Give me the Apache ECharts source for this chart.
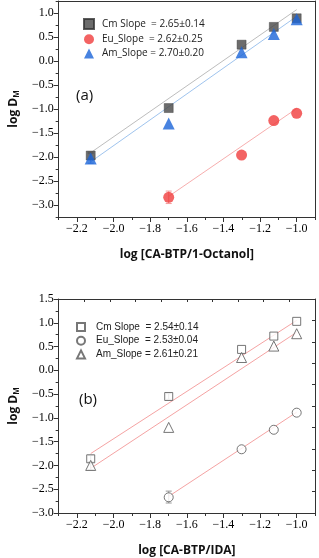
<!DOCTYPE html>
<html><head><meta charset="utf-8">
<script src="https://cdn.jsdelivr.net/npm/echarts@6/dist/echarts.min.js"></script>
<style>html,body{margin:0;padding:0;background:#fff}#c{width:319px;height:558px}</style>
</head><body><div id="c"></div>
<script>
// ---- data ----
const xTicks = [-2.2, -2.0, -1.8, -1.6, -1.4, -1.2, -1.0];
const yTicksA = [-3.0, -2.5, -2.0, -1.5, -1.0, -0.5, 0.0, 0.5, 1.0];
const xAll = [-2.125, -1.699, -1.301, -1.125, -1.0];
const xEu = [-1.699, -1.301, -1.125, -1.0];

// panel (a): CA-BTP / 1-Octanol
const namesA = ['Cm Slope  = 2.65±0.14', 'Eu_Slope  = 2.62±0.25', 'Am_Slope = 2.70±0.20'];
const cmA = [-1.97, -0.98, 0.34, 0.71, 0.89];
const euA = [-2.84, -1.96, -1.24, -1.09];
const amA = [-2.03, -1.30, 0.18, 0.56, 0.87];
const fitCmA = [[-2.125, -1.91], [-1.0, 1.07]];
const fitEuA = [[-1.699, -2.82], [-1.0, -0.99]];
const fitAmA = [[-2.125, -2.10], [-1.0, 0.93]];
const errEuA = [[-1.699, -2.97, -2.71]];
const errAmA = [[-2.125, -2.13, -1.93]];
const errCmA = [[-2.125, -2.04, -1.90]];

// panel (b): CA-BTP / IDA
const namesB = ['Cm Slope  = 2.54±0.14', 'Eu_Slope  = 2.53±0.04', 'Am_Slope = 2.61±0.21'];
const cmB = [-1.86, -0.55, 0.44, 0.72, 1.03];
const euB = [-2.67, -1.66, -1.25, -0.89];
const amB = [-2.00, -1.20, 0.27, 0.51, 0.77];
const fitCmB = [[-2.125, -1.75], [-1.0, 1.05]];
const fitEuB = [[-1.699, -2.65], [-1.0, -0.88]];
const fitAmB = [[-2.125, -2.06], [-1.0, 0.80]];
const errEuB = [[-1.699, -2.79, -2.54]];
const errAmB = [[-2.125, -2.09, -1.92]];
const errCmB = [[-2.125, -1.93, -1.79], [-1.699, -0.61, -0.49]];

const zip = (xs, ys) => xs.map((x, i) => [x, ys[i]]);
const fmt = v => (v < -1e-9 ? '\u2212' : '') + Math.abs(v).toFixed(1);
const AX = '#333';
const serif = 'Liberation Serif';

function minorX(g, name) {
  return [
    { gridIndex: g, type: 'value', min: -2.3, max: -0.9, interval: 0.1, position: 'bottom',
      axisLine: { show: true, onZero: false, lineStyle: { color: AX } },
      axisTick: { show: true, inside: false, length: 3, lineStyle: { color: AX } },
      axisLabel: { show: false }, splitLine: { show: false } },
    { gridIndex: g, type: 'value', min: -2.3, max: -0.9, position: 'bottom',
      axisLine: { show: false, onZero: false },
      axisTick: { show: true, inside: false, length: 5, customValues: xTicks, lineStyle: { color: AX } },
      axisLabel: { show: true, hideOverlap: false, customValues: xTicks, formatter: fmt, fontFamily: serif, fontSize: 12, color: '#000', margin: 6 },
      splitLine: { show: false },
      name: name, nameLocation: 'middle', nameGap: 32,
      nameTextStyle: { fontFamily: 'Open Sans', fontWeight: 'bold', fontSize: 12, color: '#111' } }
  ];
}
const yName = {
  name: '{a|log D}{s|M}', nameLocation: 'middle', nameGap: 34, nameRotate: 90,
  nameTextStyle: { rich: {
    a: { fontFamily: 'Open Sans', fontWeight: 'bold', fontSize: 12, color: '#111' },
    s: { fontFamily: 'Open Sans', fontWeight: 'bold', fontSize: 8, color: '#111', padding: [6, 0, 0, 0] } } }
};

const xAxes = [
  ...minorX(0, 'log [CA-BTP/1-Octanol]'),
  { gridIndex: 0, type: 'value', min: -2.3, max: -0.9, position: 'top',
    axisLine: { show: true, onZero: false, lineStyle: { color: AX } }, axisTick: { show: false },
    axisLabel: { show: false }, splitLine: { show: false } },
  ...minorX(1, 'log [CA-BTP/IDA]'),
  { gridIndex: 1, type: 'value', min: 0, max: 10, interval: 1, position: 'top',
    axisLine: { show: true, onZero: false, lineStyle: { color: AX } },
    axisTick: { show: true, inside: true, length: 3, lineStyle: { color: AX } },
    axisLabel: { show: false }, splitLine: { show: false } }
];
const yAxes = [
  { gridIndex: 0, type: 'value', min: -3.25, max: 1.25, interval: 0.25, position: 'left',
    axisLine: { show: true, onZero: false, lineStyle: { color: AX } },
    axisTick: { show: true, length: 3, lineStyle: { color: AX } },
    axisLabel: { show: false }, splitLine: { show: false } },
  Object.assign({ gridIndex: 0, type: 'value', min: -3.25, max: 1.25, position: 'left',
    axisLine: { show: false, onZero: false },
    axisTick: { show: true, length: 5, customValues: yTicksA, lineStyle: { color: AX } },
    axisLabel: { show: true, hideOverlap: false, customValues: yTicksA, formatter: fmt, fontFamily: serif, fontSize: 12, color: '#000', margin: 5 },
    splitLine: { show: false } }, yName),
  { gridIndex: 0, type: 'value', min: -3.25, max: 1.25, position: 'right',
    axisLine: { show: true, onZero: false, lineStyle: { color: AX } }, axisTick: { show: false },
    axisLabel: { show: false }, splitLine: { show: false } },
  Object.assign({ gridIndex: 1, type: 'value', min: -3.0, max: 1.5, interval: 0.5, position: 'left',
    axisLine: { show: true, onZero: false, lineStyle: { color: AX } },
    axisTick: { show: true, length: 5, lineStyle: { color: AX } },
    minorTick: { show: true, splitNumber: 2, length: 3, lineStyle: { color: AX } },
    axisLabel: { show: true, formatter: fmt, fontFamily: serif, fontSize: 12, color: '#000', margin: 5 },
    splitLine: { show: false } }, yName),
  { gridIndex: 1, type: 'value', min: 0, max: 10, interval: 1, position: 'right',
    axisLine: { show: true, onZero: false, lineStyle: { color: AX } },
    axisTick: { show: true, inside: true, length: 3, lineStyle: { color: AX } },
    axisLabel: { show: false }, splitLine: { show: false } }
];

function fit(data, color, xi, yi) {
  return { type: 'line', data: data, xAxisIndex: xi, yAxisIndex: yi, symbol: 'none', silent: true, z: 1,
    lineStyle: { color: color, width: 1 } };
}
function err(data, color, xi, yi) {
  return { type: 'custom', data: data, xAxisIndex: xi, yAxisIndex: yi, z: 1, silent: true,
    renderItem: (params, api) => {
      const lo = api.coord([api.value(0), api.value(1)]);
      const hi = api.coord([api.value(0), api.value(2)]);
      const w = 3;
      return { type: 'group', children: [
        { type: 'line', shape: { x1: lo[0], y1: lo[1], x2: hi[0], y2: hi[1] }, style: { stroke: color, lineWidth: 1 } },
        { type: 'line', shape: { x1: lo[0] - w, y1: lo[1], x2: lo[0] + w, y2: lo[1] }, style: { stroke: color, lineWidth: 1 } },
        { type: 'line', shape: { x1: hi[0] - w, y1: hi[1], x2: hi[0] + w, y2: hi[1] }, style: { stroke: color, lineWidth: 1 } }
      ] };
    } };
}
function sc(name, data, symbol, size, style, xi, yi) {
  return { type: 'scatter', name: name, data: data, xAxisIndex: xi, yAxisIndex: yi, symbol: symbol,
    symbolSize: size, itemStyle: style, z: 3 };
}
const CM = '#474747', EU = '#f03c3c', AM = '#1a64d8';
const open = { color: '#fff', borderColor: '#555', borderWidth: 1 };

const option = {
  animation: false,
  backgroundColor: '#fff',
  grid: [
    { left: 49, right: 4, top: 1, height: 216, containLabel: false },
    { left: 49, right: 4, top: 299, height: 216, containLabel: false }
  ],
  xAxis: xAxes,
  yAxis: yAxes,
  legend: [
    { data: namesA, orient: 'vertical', left: 78, top: 13, itemWidth: 10, itemHeight: 10, itemGap: 4.3,
      textStyle: { fontFamily: 'Open Sans', fontSize: 10, color: '#222', padding: [0, 0, 0, 3] } },
    { data: namesB, orient: 'vertical', left: 71, top: 317, itemWidth: 8, itemHeight: 8, itemGap: 3.7,
      textStyle: { fontFamily: 'Liberation Sans', fontSize: 10, color: '#222', padding: [0, 0, 0, 6] } }
  ],
  graphic: [
    { type: 'text', left: 76, top: 88, style: { text: '(a)', font: '15px "Open Sans"', fill: '#111' } },
    { type: 'text', left: 79, top: 392, style: { text: '(b)', font: '15px "Open Sans"', fill: '#111' } }
  ],
  series: [
    fit(fitCmA, '#bdbdbd', 0, 0), fit(fitAmA, '#9fc4ee', 0, 0), fit(fitEuA, '#f7aeae', 0, 0),
    err(errCmA, '#888', 0, 0), err(errEuA, '#f49a9a', 0, 0), err(errAmA, '#7aa8e8', 0, 0),
    sc(namesA[0], zip(xAll, cmA), 'rect', 9, { color: CM, borderColor: '#333', borderWidth: 0.5 }, 0, 0),
    sc(namesA[1], zip(xEu, euA), 'circle', 11, { color: EU }, 0, 0),
    sc(namesA[2], zip(xAll, amA), 'triangle', 12, { color: AM }, 0, 0),
    fit(fitCmB, '#f5a3a3', 3, 3), fit(fitAmB, '#f5a3a3', 3, 3), fit(fitEuB, '#f5a3a3', 3, 3),
    err(errCmB, '#999', 3, 3), err(errEuB, '#999', 3, 3), err(errAmB, '#999', 3, 3),
    sc(namesB[0], zip(xAll, cmB), 'rect', 8, open, 3, 3),
    sc(namesB[1], zip(xEu, euB), 'circle', 9, open, 3, 3),
    sc(namesB[2], zip(xAll, amB), 'triangle', 10, open, 3, 3)
  ]
};
const chart = echarts.init(document.getElementById('c'), null, { renderer: 'canvas' });
chart.setOption(option);
</script>
</body></html>
